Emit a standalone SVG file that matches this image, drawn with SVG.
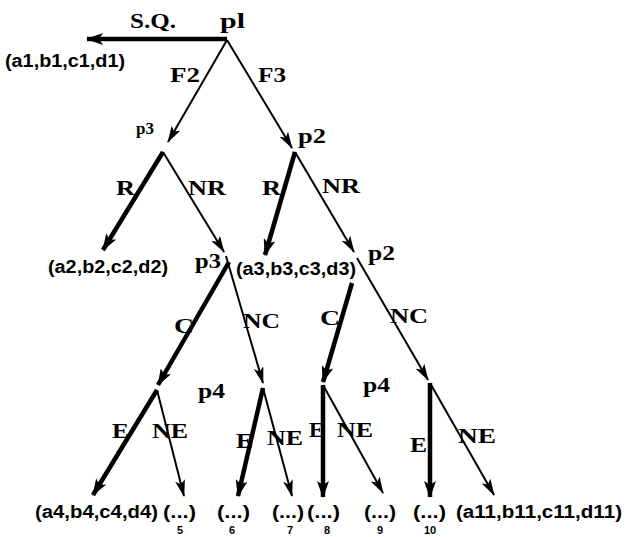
<svg xmlns="http://www.w3.org/2000/svg" width="626" height="537" viewBox="0 0 626 537">
<style>
.lbl{font-family:"Liberation Serif","Times New Roman",serif;font-weight:bold;font-size:22px;fill:#000}
.tup{font-family:"Liberation Sans",Arial,sans-serif;font-weight:bold;font-size:18px;fill:#000}
.num{font-family:"Liberation Sans",Arial,sans-serif;font-weight:bold;font-size:11px;fill:#000}
.thin{stroke:#000;stroke-width:2;fill:none;marker-end:url(#ah)}
.thick{stroke:#000;stroke-width:4.5;fill:none;marker-end:url(#ahb)}
</style>
<defs>
<marker id="ah" markerUnits="userSpaceOnUse" markerWidth="18" markerHeight="12" refX="16" refY="5" orient="auto">
<path d="M0,0 L17,5 L0,10 L4,5 Z" fill="#000"/>
</marker>
<marker id="ahb" markerUnits="userSpaceOnUse" markerWidth="18" markerHeight="12" refX="16" refY="6" orient="auto">
<path d="M0,0 L17,6 L0,12 L4,6 Z" fill="#000"/>
</marker>
</defs>
<rect width="626" height="537" fill="#fff"/>
<g id="connectors">
<line class="thick" x1="227" y1="39" x2="87" y2="39"/>
<line class="thin" x1="227" y1="40" x2="168" y2="142"/>
<line class="thin" x1="227" y1="40" x2="292" y2="148"/>
<line class="thick" x1="163" y1="152" x2="103" y2="250"/>
<line class="thin" x1="163" y1="152" x2="224" y2="252"/>
<line class="thick" x1="295" y1="152" x2="265" y2="255"/>
<line class="thin" x1="295" y1="152" x2="354" y2="252"/>
<line class="thick" x1="229" y1="262" x2="158" y2="385"/>
<line class="thin" x1="226" y1="256" x2="263" y2="383"/>
<line class="thick" x1="352" y1="283" x2="323" y2="382"/>
<line class="thin" x1="357" y1="258" x2="428" y2="380"/>
<line class="thick" x1="157" y1="390" x2="93" y2="495"/>
<line class="thin" x1="157" y1="390" x2="184" y2="496"/>
<line class="thick" x1="263" y1="388" x2="238" y2="496"/>
<line class="thin" x1="263" y1="388" x2="292" y2="496"/>
<line class="thick" x1="323" y1="385" x2="323" y2="497"/>
<line class="thin" x1="323" y1="385" x2="383" y2="493"/>
<line class="thick" x1="430" y1="383" x2="430" y2="497"/>
<line class="thin" x1="430" y1="383" x2="494" y2="495"/>
</g>
<g id="edge-labels">
<text class="lbl" x="130" y="28" textLength="46" lengthAdjust="spacingAndGlyphs">S.Q.</text>
<text class="lbl" x="170" y="82" textLength="30" lengthAdjust="spacingAndGlyphs">F2</text>
<text class="lbl" x="258" y="82" textLength="28" lengthAdjust="spacingAndGlyphs">F3</text>
<text class="lbl" x="116" y="195" textLength="19" lengthAdjust="spacingAndGlyphs">R</text>
<text class="lbl" x="188" y="195" textLength="38" lengthAdjust="spacingAndGlyphs">NR</text>
<text class="lbl" x="262" y="195" textLength="19" lengthAdjust="spacingAndGlyphs">R</text>
<text class="lbl" x="322" y="193" textLength="38" lengthAdjust="spacingAndGlyphs">NR</text>
<text class="lbl" x="174" y="333" textLength="20" lengthAdjust="spacingAndGlyphs">C</text>
<text class="lbl" x="243" y="328" textLength="37" lengthAdjust="spacingAndGlyphs">NC</text>
<text class="lbl" x="320" y="325" textLength="20" lengthAdjust="spacingAndGlyphs">C</text>
<text class="lbl" x="390" y="323" textLength="38" lengthAdjust="spacingAndGlyphs">NC</text>
<text class="lbl" x="112" y="438" textLength="17" lengthAdjust="spacingAndGlyphs">E</text>
<text class="lbl" x="152" y="438" textLength="36" lengthAdjust="spacingAndGlyphs">NE</text>
<text class="lbl" x="236" y="448" textLength="17" lengthAdjust="spacingAndGlyphs">E</text>
<text class="lbl" x="267" y="445" textLength="36" lengthAdjust="spacingAndGlyphs">NE</text>
<text class="lbl" x="309" y="437" textLength="15" lengthAdjust="spacingAndGlyphs">E</text>
<text class="lbl" x="337" y="437" textLength="36" lengthAdjust="spacingAndGlyphs">NE</text>
<text class="lbl" x="410" y="452" textLength="17" lengthAdjust="spacingAndGlyphs">E</text>
<text class="lbl" x="458" y="443" textLength="38" lengthAdjust="spacingAndGlyphs">NE</text>
</g>
<g id="node-p1"><text class="lbl" x="220" y="28" textLength="25" lengthAdjust="spacingAndGlyphs">pl</text></g>
<g id="leaf-1"><text class="tup" x="5" y="67" textLength="120" lengthAdjust="spacingAndGlyphs">(a1,b1,c1,d1)</text></g>
<g id="node-p3"><text class="lbl" x="136" y="134" style="font-size:17px">p3</text></g>
<g id="node-p2"><text class="lbl" x="298" y="143" textLength="28" lengthAdjust="spacingAndGlyphs">p2</text></g>
<g id="leaf-2"><text class="tup" x="48" y="273" textLength="120" lengthAdjust="spacingAndGlyphs">(a2,b2,c2,d2)</text></g>
<g id="node-p3b"><text class="lbl" x="195" y="268" textLength="26" lengthAdjust="spacingAndGlyphs">p3</text></g>
<g id="leaf-3"><text class="tup" x="236" y="275" textLength="120" lengthAdjust="spacingAndGlyphs">(a3,b3,c3,d3)</text></g>
<g id="node-p2b"><text class="lbl" x="368" y="260" textLength="27" lengthAdjust="spacingAndGlyphs">p2</text></g>
<g id="node-p4a"><text class="lbl" x="198" y="398" textLength="27" lengthAdjust="spacingAndGlyphs">p4</text></g>
<g id="node-p4b"><text class="lbl" x="363" y="392" textLength="27" lengthAdjust="spacingAndGlyphs">p4</text></g>
<g id="leaf-4"><text class="tup" x="35" y="518" textLength="123" lengthAdjust="spacingAndGlyphs">(a4,b4,c4,d4)</text></g>
<g id="leaf-5"><text class="tup" x="163" y="518" textLength="33" lengthAdjust="spacingAndGlyphs">(...)</text><text class="num" x="180" y="534" text-anchor="middle">5</text></g>
<g id="leaf-6"><text class="tup" x="217" y="518" textLength="33" lengthAdjust="spacingAndGlyphs">(...)</text><text class="num" x="232" y="534" text-anchor="middle">6</text></g>
<g id="leaf-7"><text class="tup" x="272" y="518" textLength="32" lengthAdjust="spacingAndGlyphs">(...)</text><text class="num" x="290" y="534" text-anchor="middle">7</text></g>
<g id="leaf-8"><text class="tup" x="307" y="518" textLength="33" lengthAdjust="spacingAndGlyphs">(...)</text><text class="num" x="327" y="534" text-anchor="middle">8</text></g>
<g id="leaf-9"><text class="tup" x="364" y="518" textLength="32" lengthAdjust="spacingAndGlyphs">(...)</text><text class="num" x="380" y="534" text-anchor="middle">9</text></g>
<g id="leaf-10"><text class="tup" x="413" y="518" textLength="33" lengthAdjust="spacingAndGlyphs">(...)</text><text class="num" x="430" y="534" text-anchor="middle">10</text></g>
<g id="leaf-11"><text class="tup" x="456" y="518" textLength="166" lengthAdjust="spacingAndGlyphs">(a11,b11,c11,d11)</text></g>
</svg>
